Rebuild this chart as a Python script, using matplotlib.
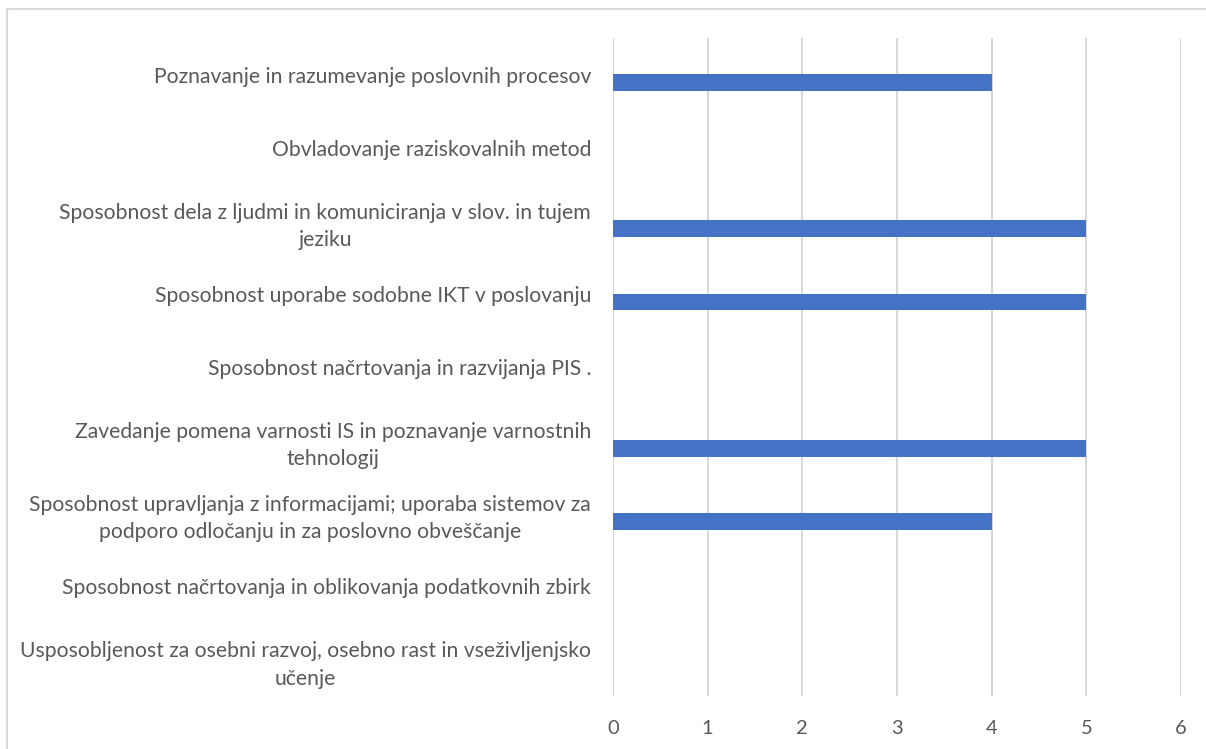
import matplotlib.pyplot as plt
from matplotlib.patches import Rectangle
import numpy as np

categories = [
    "Poznavanje in razumevanje poslovnih procesov",
    "Obvladovanje raziskovalnih metod",
    "Sposobnost dela z ljudmi in komuniciranja v slov. in tujem\njeziku",
    "Sposobnost uporabe sodobne IKT v poslovanju",
    "Sposobnost načrtovanja in razvijanja PIS .",
    "Zavedanje pomena varnosti IS in poznavanje varnostnih\ntehnologij",
    "Sposobnost upravljanja z informacijami; uporaba sistemov za\npodporo odločanju in za poslovno obveščanje",
    "Sposobnost načrtovanja in oblikovanja podatkovnih zbirk",
    "Usposobljenost za osebni razvoj, osebno rast in vseživljenjsko\nučenje",
]
values = [4, 0, 5, 5, 0, 5, 4, 0, 0]
xticks = [0, 1, 2, 3, 4, 5, 6]

GREY = "#595959"
BLUE = "#4472C4"

plt.rcParams["font.family"] = ["Lato", "DejaVu Sans"]

fig = plt.figure(figsize=(12.06, 7.49), dpi=100)
ax = fig.add_axes([613 / 1206, 1 - 696 / 749, (1181 - 613) / 1206, (696 - 38) / 749])

y = np.arange(len(categories))
ax.barh(y + 0.11, values, height=0.23, color=BLUE, linewidth=0, zorder=3)

ax.set_xlim(0, 6)
ax.set_ylim(len(categories) - 0.5, -0.5)
ax.set_xticks(xticks)
ax.set_yticks(y)
ax.set_yticklabels(categories, multialignment="center", linespacing=1.45,
                   fontsize=15.2, color=GREY)
ax.tick_params(axis="both", length=0, colors=GREY)
ax.tick_params(axis="x", labelsize=14.5, pad=17)
ax.tick_params(axis="y", pad=15.8)
ax.grid(axis="x", color="#d9d9d9", linewidth=1.5, zorder=0)
for s in ax.spines.values():
    s.set_visible(False)

fig.patches.append(Rectangle((7 / 1206, -0.1), 1.2, 1 - 9 / 749 + 0.1,
                             transform=fig.transFigure, fill=False,
                             edgecolor="#d9d9d9", linewidth=1.5))

fig.savefig("out.png", dpi=100)
